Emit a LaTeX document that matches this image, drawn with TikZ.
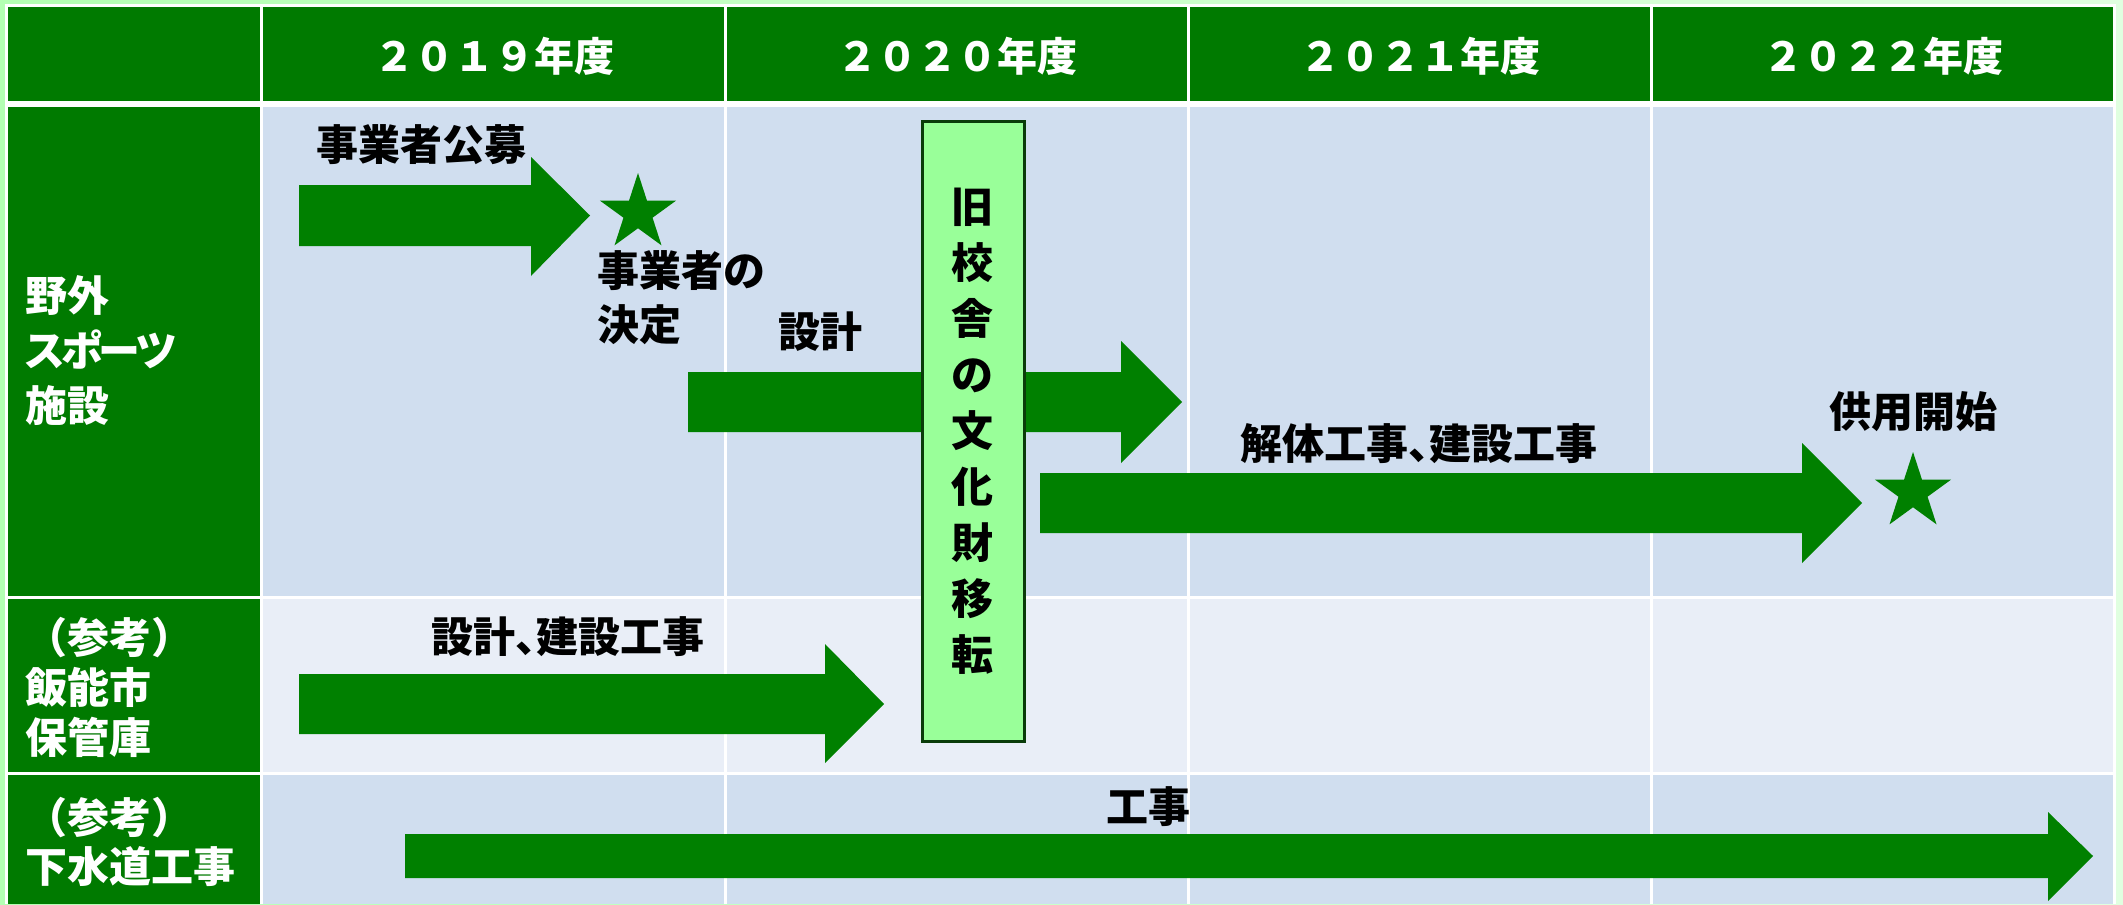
\documentclass[tikz,border=0pt]{standalone}
\usepackage{fontspec}
\setmainfont{Noto Sans CJK JP}
\newfontfamily\jpprop{Noto Sans CJK JP}[RawFeature=+palt]
\usetikzlibrary{shapes.geometric}
\definecolor{cellgreen}{RGB}{0,122,0}
\definecolor{arrowgreen}{RGB}{0,128,0}
\definecolor{bodyblue}{RGB}{208,222,239}
\definecolor{bodylight}{RGB}{233,238,247}
\definecolor{boxfill}{RGB}{153,255,153}
\definecolor{boxline}{RGB}{10,60,10}
\definecolor{bgleft}{RGB}{179,255,179}
\definecolor{bgright}{RGB}{224,255,224}
% block arrow: x start, head base x, tip x, body y1, body y2, head y1, head y2
\newcommand\blockarrow[7]{%
  \fill[arrowgreen] (#1,#4) -- (#2,#4) -- (#2,#6) -- (#3,{(#4+#5)/2}) -- (#2,#7) -- (#2,#5) -- (#1,#5) -- cycle;}
\begin{document}
\begin{tikzpicture}[x=0.5pt,y=-0.5pt,
  lbl/.style={font=\fontsize{21}{25}\selectfont\bfseries, text=black, inner sep=0pt},
  hdr/.style={font=\fontsize{20}{24}\selectfont\bfseries, text=white, inner sep=0pt},
  side/.style={font=\fontsize{21}{#1}\selectfont\bfseries, text=white, align=left, anchor=west, inner sep=0pt},
  milestone/.style={star, star points=5, star point ratio=2.618, minimum size=40pt, fill=arrowgreen, inner sep=0pt},
  vbox/.style={draw=boxline, line width=1.5pt, fill=boxfill}]
\useasboundingbox (0,0) rectangle (2123,904);
\shade[left color=bgleft, right color=bgright] (0,0) rectangle (2123,904);
% table grid
\fill[white] (5,4) rectangle (2116,904);
% header row
\foreach \xa/\xb in {8/260,263/724,727/1187,1190/1650,1653/2113}
  \fill[cellgreen] (\xa,7) rectangle (\xb,101);
% first column
\fill[cellgreen] (8,107) rectangle (260,596);
\fill[cellgreen] (8,599) rectangle (260,772);
\fill[cellgreen] (8,775) rectangle (260,904);
% body cells
\foreach \xa/\xb in {263/724,727/1187,1190/1650,1653/2113}{
  \fill[bodyblue] (\xa,107) rectangle (\xb,596);
  \fill[bodylight] (\xa,599) rectangle (\xb,772);
  \fill[bodyblue] (\xa,775) rectangle (\xb,904);
}
% header labels
\node[hdr] (y2019) at (494,56) {２０１９年度};
\node[hdr] (y2020) at (957,56) {２０２０年度};
\node[hdr] (y2021) at (1420,56) {２０２１年度};
\node[hdr] (y2022) at (1883,56) {２０２２年度};
% side labels
\node[side=27.5pt] (s1) at (25,351) {野外\\{\jpprop ス\kern-0.08em ポ\kern-0.08em ー\kern-0.08em ツ}\\施設};
\node[side=25pt] (s2) at (25,687) {（参考）\\飯能市\\保管庫};
\node[side=24.5pt] (s3) at (25,842) {（参考）\\下水道工事};
% arrows
\blockarrow{299}{531}{590}{185}{246}{157}{276}
\blockarrow{688}{1121}{1182}{372}{432}{341}{463}
\blockarrow{1040}{1802}{1862}{473}{533}{443}{563}
\blockarrow{299}{825}{884}{674}{734}{644}{763}
\blockarrow{405}{2048}{2093}{834}{878}{812}{901}
% stars
\node[milestone] (star1) at (638,213) {};
\node[milestone] (star2) at (1913,492) {};
% labels
\node[lbl] (boshu) at (421,145) {事業者公募};
\node[lbl, align=left, anchor=west, font=\fontsize{21}{27}\selectfont\bfseries] (kettei) at (597,298) {事業者の\\決定};
\node[lbl] (sekkei) at (820,332) {設計};
\node[lbl] (kaitai) at (1419,444) {解体工事{\jpprop 、}建設工事};
\node[lbl] (kyoyo) at (1913,412) {供用開始};
\node[lbl] (hokan) at (568,637) {設計{\jpprop 、}建設工事};
\node[lbl] (koji) at (1148,807) {工事};
% vertical box
\draw[vbox] (922,121) rectangle (1024,741);
\node[lbl, align=center, font=\fontsize{21}{28}\selectfont\bfseries] (bunkazai) at (972,431) {旧\\校\\舎\\の\\文\\化\\財\\移\\転};
\end{tikzpicture}
\end{document}
